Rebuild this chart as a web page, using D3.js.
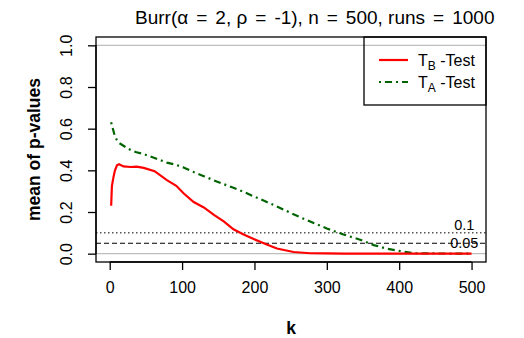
<!DOCTYPE html>
<head>
  <script src="https://d3js.org/d3.v7.min.js"></script>
  <meta charset='utf-8'>
  <style>
    body { margin: 0; background: white; }
    svg text { font-family: "Liberation Sans", Arial, sans-serif; fill: black; }
  </style>
</head>
<body>
<div id="chart"></div>
<script>

var kValues = [2, 3, 5, 7, 10, 13, 19, 29, 37, 47, 62, 79, 92, 102, 116, 130, 144, 158, 171, 185,
               199, 208, 217, 231, 254, 277, 300, 323, 347, 365, 383, 402, 420, 450, 500];

var testB = [0.23, 0.324, 0.364, 0.397, 0.424, 0.429, 0.419, 0.416, 0.418, 0.412, 0.396, 0.353, 0.326, 0.29,
             0.248, 0.222, 0.186, 0.154, 0.117, 0.092, 0.070, 0.057, 0.044, 0.025, 0.008, 0.002, 0.001,
             0, 0, 0, 0, 0, 0, 0, 0];

var testA = [0.631, 0.615, 0.591, 0.565, 0.545, 0.531, 0.518, 0.497, 0.487, 0.478, 0.459, 0.437, 0.426, 0.414,
             0.392, 0.372, 0.352, 0.333, 0.316, 0.297, 0.275, 0.262, 0.248, 0.227, 0.189, 0.154, 0.121,
             0.092, 0.066, 0.041, 0.024, 0.012, 0.002, 0.001, 0];

var xTicks = [0, 100, 200, 300, 400, 500];
var yTicks = [0, 0.2, 0.4, 0.6, 0.8, 1.0];
var refLevels = [0.1, 0.05];
var refLabels = ["0.1", "0.05"];
// title pieces, split at the "=" signs
var titleParts = ["Burr(\u03b1", "=", "2, \u03c1", "=", "-1), n", "=", "500, runs", "=", "1000"];

var width = 524, height = 338;
var plot = {left: 96, right: 486, top: 37, bottom: 262};

var svg = d3.select("#chart").append("svg")
    .attr("width", width)
    .attr("height", height);

var x = d3.scaleLinear().domain([-18.96, 519.96]).range([plot.left, plot.right]);
var y = d3.scaleLinear().domain([-0.04, 1.04]).range([plot.bottom, plot.top]);

// grey lines at 0 and 1
svg.selectAll(".hgrey")
  .data([0, 1])
  .enter().append("line")
    .attr("x1", plot.left).attr("x2", plot.right)
    .attr("y1", function(d) { return y(d) }).attr("y2", function(d) { return y(d) })
    .attr("stroke", "#bebebe").attr("stroke-width", 1.3);

// reference lines
svg.append("line")
    .attr("x1", plot.left).attr("x2", plot.right)
    .attr("y1", y(refLevels[0])).attr("y2", y(refLevels[0]))
    .attr("stroke", "black").attr("stroke-width", 1)
    .attr("stroke-dasharray", "1.5,2.5");
svg.append("line")
    .attr("x1", plot.left).attr("x2", plot.right)
    .attr("y1", y(refLevels[1])).attr("y2", y(refLevels[1]))
    .attr("stroke", "black").attr("stroke-width", 1)
    .attr("stroke-dasharray", "5,3");

svg.append("text")
    .attr("x", x(490)).attr("y", y(refLevels[0]) - 3)
    .attr("text-anchor", "middle").attr("font-size", "14.5px")
    .text(refLabels[0]);
svg.append("text")
    .attr("x", x(490)).attr("y", y(refLevels[1]) + 5)
    .attr("text-anchor", "middle").attr("font-size", "14.5px")
    .text(refLabels[1]);

// curves
var line = function(vals) {
  return d3.line()
    .x(function(d, i) { return x(kValues[i]) })
    .y(function(d) { return y(d) })(vals);
};

svg.append("path")
    .attr("d", line(testA))
    .attr("fill", "none")
    .attr("stroke", "#006400")
    .attr("stroke-width", 2.2)
    .attr("stroke-dasharray", "2,4,7,4");

svg.append("path")
    .attr("d", line(testB))
    .attr("fill", "none")
    .attr("stroke", "#ff0000")
    .attr("stroke-width", 2.2);

// box
svg.append("rect")
    .attr("x", plot.left).attr("y", plot.top)
    .attr("width", plot.right - plot.left).attr("height", plot.bottom - plot.top)
    .attr("fill", "none").attr("stroke", "black").attr("stroke-width", 1.3);

// axes
svg.append("g")
    .attr("transform", `translate(0,${plot.bottom})`)
    .call(d3.axisBottom(x).tickValues(xTicks).tickSize(8).tickPadding(12).tickSizeOuter(0))
    .call(function(g) {
      g.select(".domain").attr("d", `M${x(0)},0H${x(500)}`).attr("stroke-width", 1.3);
      g.selectAll(".tick line").attr("stroke-width", 1.3);
      g.selectAll("text").attr("font-size", "16px").attr("font-family", "Liberation Sans, Arial, sans-serif");
    });

svg.append("g")
    .attr("transform", `translate(${plot.left},0)`)
    .call(d3.axisLeft(y).tickValues(yTicks).tickSize(8).tickFormat(d3.format(".1f")).tickSizeOuter(0))
    .call(function(g) {
      g.select(".domain").attr("d", `M0,${y(0)}V${y(1)}`).attr("stroke-width", 1.3);
      g.selectAll(".tick line").attr("stroke-width", 1.3);
      g.selectAll("text")
        .attr("font-size", "16px").attr("font-family", "Liberation Sans, Arial, sans-serif")
        .attr("text-anchor", "middle").attr("dy", null)
        .attr("x", null)
        .attr("transform", "translate(-24,0) rotate(-90)");
    });

// titles
var title = svg.append("text")
    .attr("x", 135).attr("y", 24)
    .attr("font-size", "19px");
titleParts.forEach(function(p, i) {
  title.append("tspan").attr("dx", i == 0 ? 0 : 8).text(p);
});

svg.append("text")
    .attr("x", (plot.left + plot.right) / 2).attr("y", 334)
    .attr("text-anchor", "middle").attr("font-size", "17.5px").attr("font-weight", "bold")
    .text("k");

svg.append("text")
    .attr("transform", `translate(40,${(plot.top + plot.bottom) / 2}) rotate(-90)`)
    .attr("text-anchor", "middle").attr("font-size", "17.5px").attr("font-weight", "bold")
    .text("mean of p-values");

// legend
var lg = svg.append("g");
lg.append("rect")
    .attr("x", 364).attr("y", plot.top)
    .attr("width", plot.right - 364).attr("height", 105 - plot.top)
    .attr("fill", "none").attr("stroke", "black").attr("stroke-width", 1.3);

var legendItems = [
  {name: "B", color: "#ff0000", dash: null, yy: 60},
  {name: "A", color: "#006400", dash: "2,4,7,4", yy: 82}
];
legendItems.forEach(function(d) {
  lg.append("line")
    .attr("x1", 379).attr("x2", 408)
    .attr("y1", d.yy).attr("y2", d.yy)
    .attr("stroke", d.color).attr("stroke-width", 2.2)
    .attr("stroke-dasharray", d.dash);
  var t = lg.append("text").attr("x", 418).attr("y", d.yy + 6).attr("font-size", "16px");
  t.append("tspan").text("T");
  t.append("tspan").attr("font-size", "12px").attr("dy", 4).text(d.name);
  t.append("tspan").attr("dy", -4).text(" -Test");
});

</script>
</body>
